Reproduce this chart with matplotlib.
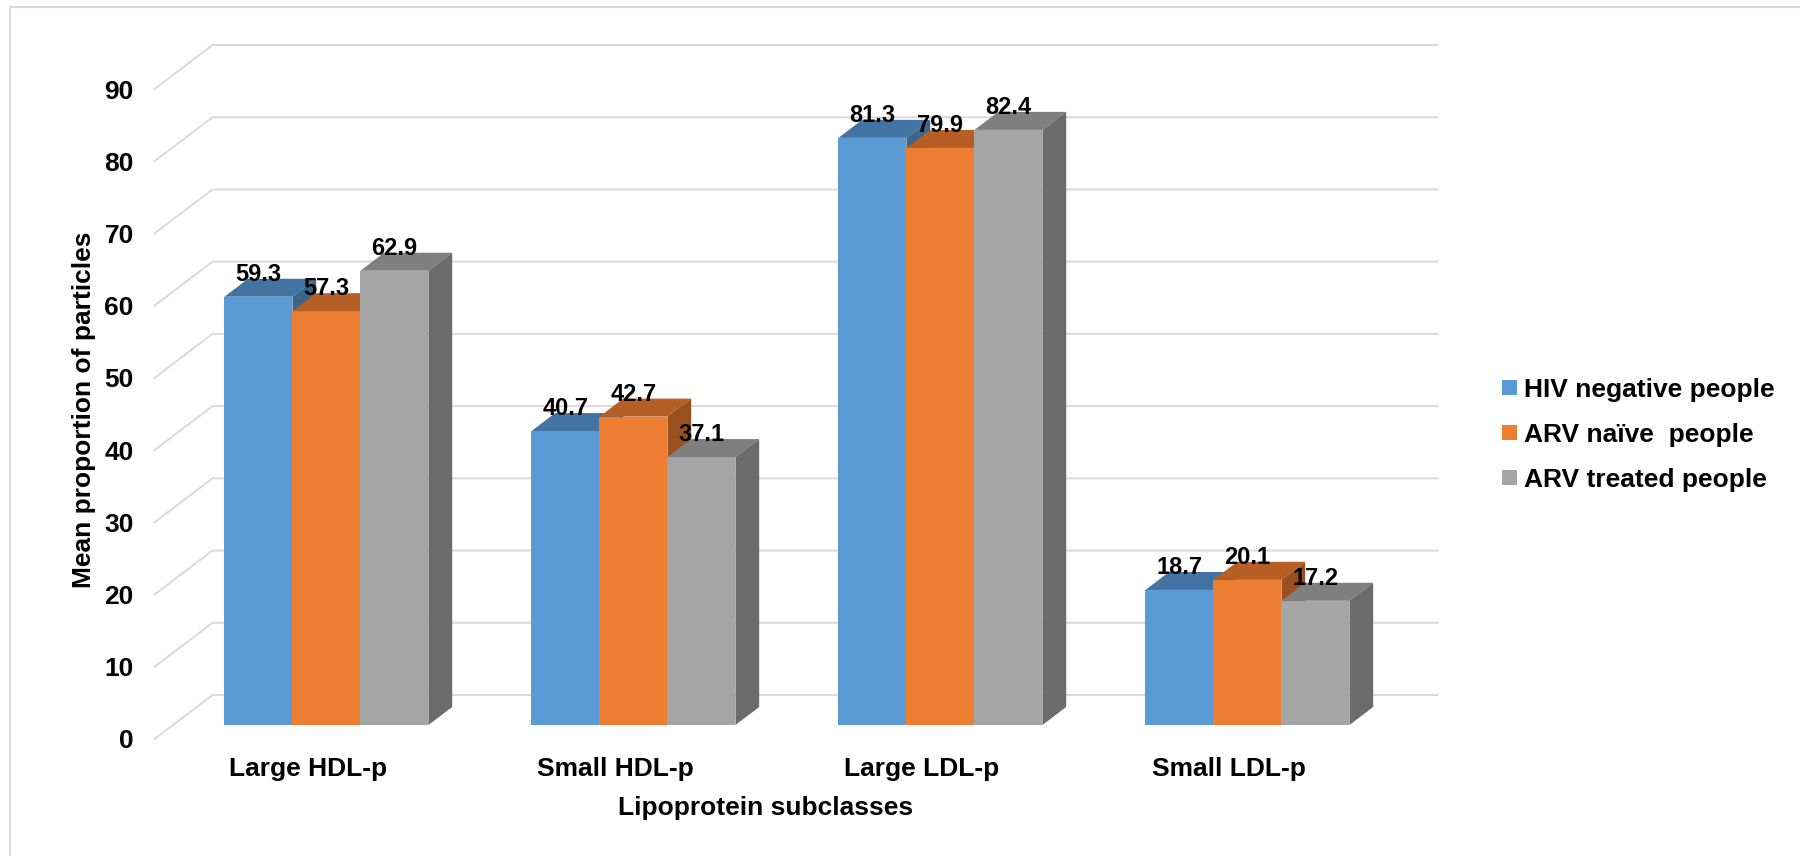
import matplotlib.pyplot as plt
from matplotlib.patches import Polygon, Patch, Rectangle

plt.rcParams['font.family'] = ['Liberation Sans', 'DejaVu Sans']
plt.rcParams['font.weight'] = 'bold'

categories = ["Large HDL-p", "Small HDL-p", "Large LDL-p", "Small LDL-p"]
series = ["HIV negative people", "ARV naïve  people", "ARV treated people"]
hiv_negative = [59.3, 40.7, 81.3, 18.7]
arv_naive = [57.3, 42.7, 79.9, 20.1]
arv_treated = [62.9, 37.1, 82.4, 17.2]
yticks = list(range(0, 100, 10))

colors = ["#5B9BD5", "#ED7D31", "#A5A5A5"]
tops = ["#4273A3", "#B55F24", "#7F7F7F"]
sides = ["#3B658A", "#9A501E", "#6B6B6B"]
grid_col = "#D9D9D9"

W, H = 1800, 856
fig = plt.figure(figsize=(W / 100, H / 100), dpi=100)
ax = fig.add_axes([0, 0, 1, 1])

# pixel geometry of the excel-style oblique 3d view
CAT_PX = 307.0   # px per category
VAL_PX = 7.222   # px per value unit
X0_PX = 308.0    # px of category 0 on the front plane
Y0_PX = 739.0    # px (from top) of value 0 on the front plane
DEPTH_X, DEPTH_Y = 58.0, 44.0   # front plane -> back wall shift in px
ax.set_xlim(-X0_PX / CAT_PX, (W - X0_PX) / CAT_PX)
ax.set_ylim(-(H - Y0_PX) / VAL_PX, Y0_PX / VAL_PX)


def proj(x, y, d):
    # d = 0 front plane, d = 1 back wall
    return x + d * DEPTH_X / CAT_PX, y + d * DEPTH_Y / VAL_PX


X_L, X_R = -0.5, 3.49
for t in yticks:
    bx0, by = proj(X_L, t, 1)
    bx1, _ = proj(X_R, t, 1)
    ax.plot([X_L, bx0, bx1], [t, by, by], color=grid_col, lw=1.4, zorder=1)

bar_w = 0.2215
group_w = 3 * bar_w
d0, d1 = 14 / 44, 32 / 44
ddx = (d1 - d0) * DEPTH_X / CAT_PX
ddy = (d1 - d0) * DEPTH_Y / VAL_PX

data = [hiv_negative, arv_naive, arv_treated]
z = 2
for i in range(len(categories)):
    for j, vals in enumerate(data):
        v = vals[i]
        left = i - group_w / 2 + j * bar_w
        fx, fy = proj(left, 0, d0)
        ty = fy + v
        ax.bar(fx, v, width=bar_w, bottom=fy, align='edge', color=colors[j], zorder=z)
        ax.add_patch(Polygon([(fx, ty), (fx + bar_w, ty), (fx + bar_w + ddx, ty + ddy), (fx + ddx, ty + ddy)],
                             closed=True, facecolor=tops[j], edgecolor='none', zorder=z))
        ax.add_patch(Polygon([(fx + bar_w, fy), (fx + bar_w + ddx, fy + ddy), (fx + bar_w + ddx, ty + ddy),
                              (fx + bar_w, ty)], closed=True, facecolor=sides[j], edgecolor='none', zorder=z))
        ax.text(fx + bar_w / 2, ty + ddy - 2 / VAL_PX, f"{v}", ha='center', va='baseline',
                fontsize=17, fontweight='bold', color='black', zorder=100)
        z += 1

for s in ax.spines.values():
    s.set_visible(False)
ax.spines['left'].set_position(('data', X_L))
ax.spines['bottom'].set_position(('data', 0))
ax.set_yticks(yticks)
ax.set_xticks(range(len(categories)), categories)
ax.tick_params(axis='y', length=0, pad=15, labelsize=19)
ax.tick_params(axis='x', length=0, pad=13, labelsize=19)
ax.patch.set_alpha(0)

fig.text(766 / W, 1 - 815 / H, "Lipoprotein subclasses", ha='center', va='baseline',
         fontsize=19, fontweight='bold')
fig.text(84 / W, 1 - 410 / H, "Mean proportion of particles", ha='center', va='center',
         rotation=90, fontsize=19, fontweight='bold')

handles = [Patch(facecolor=c, edgecolor='none') for c in colors]
fig.legend(handles, series, loc='center left', bbox_to_anchor=(1502 / W, 1 - 435 / H),
           frameon=False, fontsize=19, handlelength=0.55, handleheight=0.5, handletextpad=0.3,
           labelspacing=0.8, borderpad=0, borderaxespad=0)

fig.patches.append(Rectangle((10 / W, -0.05), 1.1, (H - 7) / H + 0.05, transform=fig.transFigure,
                             fill=False, edgecolor=grid_col, lw=1.5))

fig.savefig('out.png', dpi=100)
